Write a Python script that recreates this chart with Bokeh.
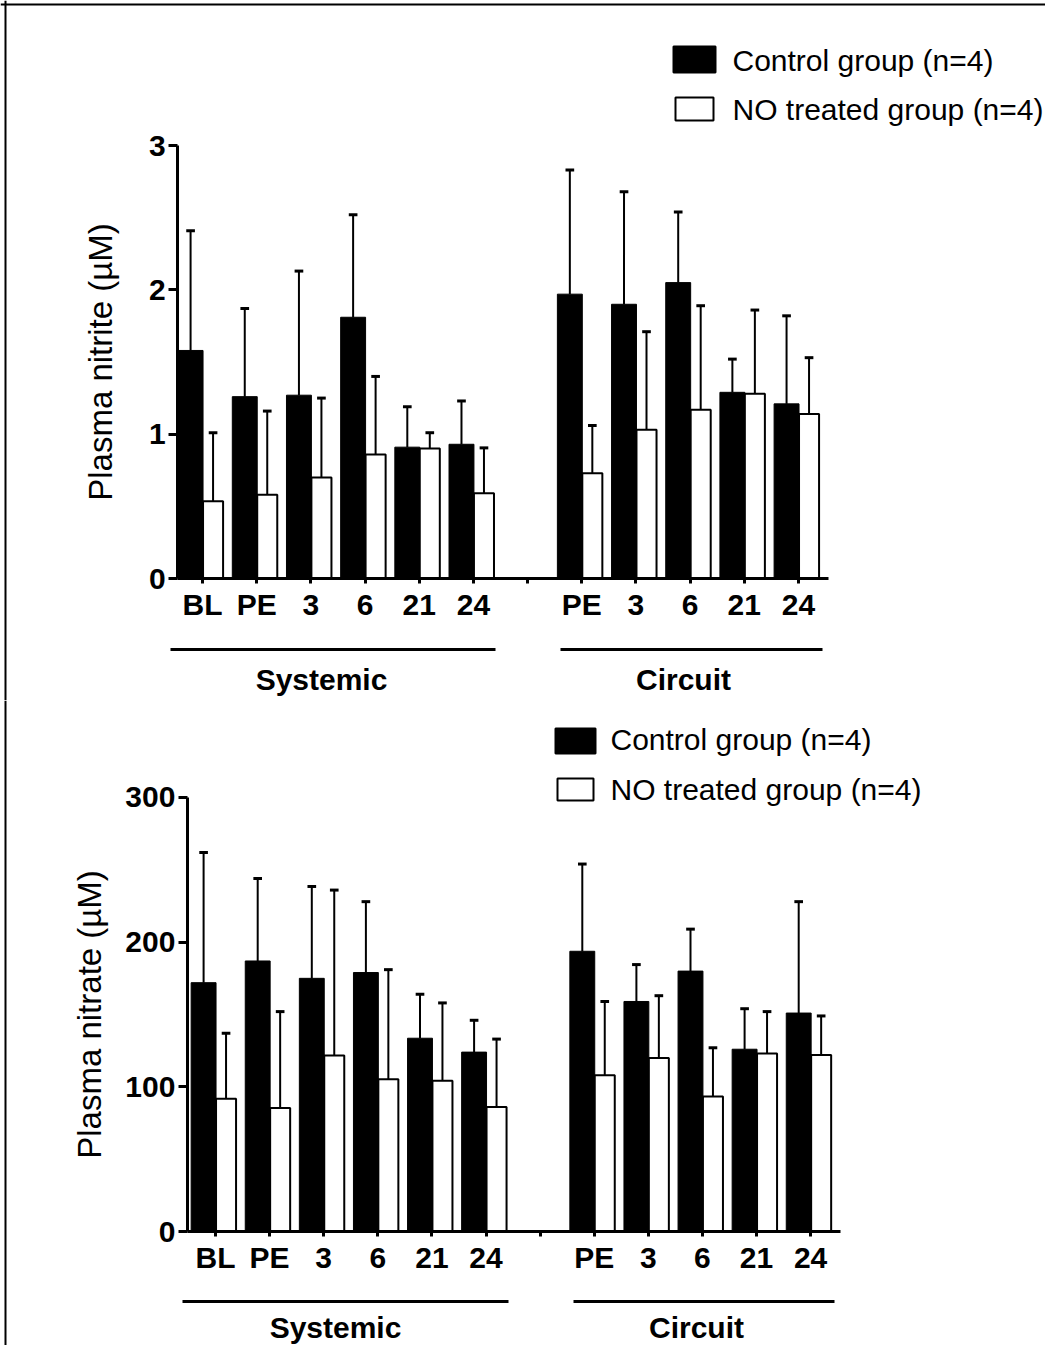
from bokeh.plotting import figure
from bokeh.layouts import column
from bokeh.models import FixedTicker, Range1d, Span
from bokeh.core.properties import value
from bokeh.embed import file_html
from bokeh.resources import INLINE

# ---------------- data ----------------
systemic_times = ["BL", "PE", "3", "6", "21", "24"]
circuit_times = ["PE", "3", "6", "21", "24"]
group_names = ["Systemic", "Circuit"]
legend_labels = ["Control group (n=4)", "NO treated group (n=4)"]

# Plasma nitrite (uM): systemic (6) followed by circuit (5)
nitrite_control_mean = [1.58, 1.26, 1.27, 1.81, 0.91, 0.93, 1.97, 1.90, 2.05, 1.29, 1.21]
nitrite_control_err = [0.83, 0.61, 0.86, 0.71, 0.28, 0.30, 0.86, 0.78, 0.49, 0.23, 0.61]
nitrite_no_mean = [0.535, 0.58, 0.70, 0.86, 0.90, 0.59, 0.73, 1.03, 1.17, 1.28, 1.14]
nitrite_no_err = [0.475, 0.58, 0.55, 0.54, 0.11, 0.315, 0.33, 0.68, 0.72, 0.58, 0.39]
nitrite_ticks = [0, 1, 2, 3]

# Plasma nitrate (uM)
nitrate_control_mean = [172, 187, 175, 179, 133.6, 124, 193.7, 159, 180, 126, 151]
nitrate_control_err = [90, 57, 63.5, 49, 30.4, 22, 60.3, 25.5, 29, 28, 77]
nitrate_no_mean = [91.8, 85.4, 121.6, 105.3, 104.2, 86, 108, 120, 93.4, 123, 122]
nitrate_no_err = [45.2, 66.6, 114.4, 75.7, 53.8, 47, 51, 43, 33.6, 29, 27]
nitrate_ticks = [0, 100, 200, 300]

FONT = value("Liberation Sans")
W = 1045


def make_panel(control_mean, control_err, no_mean, no_err, yticks, ylabel,
               fig_top, fig_h, tick0_px, xu, zero_px, yu,
               axis_left, axis_right, label_standoff,
               glines, gtext, legend_rects, legend_text, borders):
    # picture pixel -> data helpers
    def px2x(px):
        return (px - tick0_px) / xu

    def px2y(py):
        return (zero_px - py) / yu

    x_start = px2x(0)
    x_end = px2x(W)
    y_end = px2y(fig_top)
    y_start = px2y(fig_top + fig_h)

    p = figure(width=W, height=fig_h, x_range=Range1d(x_start, x_end),
               y_range=Range1d(y_start, y_end), output_backend="svg",
               toolbar_location=None, min_border=0)
    p.min_border_left = p.min_border_right = 0
    p.min_border_top = p.min_border_bottom = 0
    p.grid.visible = False
    p.outline_line_color = None
    p.background_fill_color = "white"
    p.border_fill_color = "white"

    # category positions: systemic 0..5, one empty slot, circuit 7..11
    n_sys = len(systemic_times)
    positions = list(range(n_sys)) + [n_sys + 1 + i for i in range(len(circuit_times))]
    tick_labels = systemic_times + [""] + circuit_times

    # x axis
    xa = p.xaxis[0]
    xa.fixed_location = 0
    xa.bounds = (axis_left, axis_right)
    xa.ticker = FixedTicker(ticks=list(range(len(tick_labels))))
    xa.major_label_overrides = {i: lab for i, lab in enumerate(tick_labels)}
    xa.axis_line_width = 3
    xa.major_tick_line_width = 3
    xa.major_tick_out = 5
    xa.major_tick_in = 0
    xa.minor_tick_out = 0
    xa.minor_tick_in = 0
    xa.major_label_standoff = 4
    xa.major_label_text_font = "Liberation Sans"
    xa.major_label_text_font_style = "bold"
    xa.major_label_text_font_size = "30px"
    xa.major_label_text_color = "black"

    # y axis
    ya = p.yaxis[0]
    ya.fixed_location = axis_left
    ya.bounds = (yticks[0], yticks[-1])
    ya.ticker = FixedTicker(ticks=yticks)
    ya.axis_line_width = 3
    ya.major_tick_line_width = 3
    ya.major_tick_out = 9
    ya.major_tick_in = 0
    ya.minor_tick_out = 0
    ya.minor_tick_in = 0
    ya.major_label_standoff = 3
    ya.major_label_text_font = "Liberation Sans"
    ya.major_label_text_font_style = "bold"
    ya.major_label_text_font_size = "30px"
    ya.major_label_text_color = "black"
    ya.axis_label = ylabel
    ya.axis_label_text_font = "Liberation Sans"
    ya.axis_label_text_font_style = "normal"
    ya.axis_label_text_font_size = "33px"
    ya.axis_label_text_color = "black"
    ya.axis_label_standoff = label_standoff

    # bars
    bw_black = 0.46
    bw_white = 0.37
    xb = [x - 0.45 + bw_black / 2 for x in positions]
    xw = [x + 0.01 + bw_white / 2 for x in positions]

    # error bars (upper only)
    cap = 0.08
    for xs, m, e in ((xb, control_mean, control_err), (xw, no_mean, no_err)):
        tops = [a + b for a, b in zip(m, e)]
        p.segment(x0=xs, y0=m, x1=xs, y1=tops, line_color="black", line_width=2)
        p.segment(x0=[x - cap for x in xs], y0=tops, x1=[x + cap for x in xs], y1=tops,
                  line_color="black", line_width=3)

    p.vbar(x=xb, width=bw_black, top=control_mean, bottom=0,
           fill_color="black", line_color="black", line_width=1)
    p.vbar(x=xw, width=bw_white, top=no_mean, bottom=0,
           fill_color="white", line_color="black", line_width=2)

    # group brackets
    for (gx0, gx1, gy), (tx, ty), name in zip(glines, gtext, group_names):
        p.segment(x0=[px2x(gx0)], y0=[px2y(gy)], x1=[px2x(gx1)], y1=[px2y(gy)],
                  line_color="black", line_width=3)
        p.text(x=[px2x(tx)], y=[px2y(ty)], text=[name], text_font=FONT,
               text_font_style="bold", text_font_size="30px", text_color="black",
               text_align="center", text_baseline="middle")

    # legend
    fills = ["black", "white"]
    for (l, r, t, b), fc in zip(legend_rects, fills):
        p.quad(left=[px2x(l)], right=[px2x(r)], top=[px2y(t)], bottom=[px2y(b)],
               fill_color=fc, line_color="black", line_width=2)
    lx, lys = legend_text
    p.text(x=[px2x(lx)] * 2, y=[px2y(v) for v in lys], text=legend_labels,
           text_font=FONT, text_font_size="30px", text_color="black",
           text_align="left", text_baseline="middle")

    # picture frame lines
    if "left" in borders:
        p.add_layout(Span(location=px2x(5), dimension="height",
                          line_color="black", line_width=2))
    if "top" in borders:
        p.add_layout(Span(location=px2y(4), dimension="width",
                          line_color="black", line_width=2))
    return p


top = make_panel(nitrite_control_mean, nitrite_control_err, nitrite_no_mean, nitrite_no_err,
                 nitrite_ticks, "Plasma nitrite (µM)",
                 fig_top=0, fig_h=700, tick0_px=202, xu=54.18, zero_px=578, yu=144.33,
                 axis_left=-0.46, axis_right=11.55, label_standoff=27,
                 glines=[(170, 495, 649), (560, 822, 649)],
                 gtext=[(321, 679), (683, 679)],
                 legend_rects=[(673, 715, 46, 72), (675, 713, 97, 120)],
                 legend_text=(732, [59.5, 108.5]),
                 borders=("left", "top"))

bottom = make_panel(nitrate_control_mean, nitrate_control_err, nitrate_no_mean, nitrate_no_err,
                    nitrate_ticks, "Plasma nitrate (µM)",
                    fig_top=700, fig_h=645, tick0_px=215, xu=54.1, zero_px=1231, yu=1.44667,
                    axis_left=-0.52, axis_right=11.55, label_standoff=14,
                    glines=[(182, 508, 1301), (573, 834, 1301)],
                    gtext=[(335, 1327), (696, 1327)],
                    legend_rects=[(555, 595, 728, 753), (557, 593, 778, 800)],
                    legend_text=(610, [739, 788.5]),
                    borders=("left",))

layout = column(top, bottom, spacing=0)
open("out.html", "w").write(file_html(layout, INLINE))
